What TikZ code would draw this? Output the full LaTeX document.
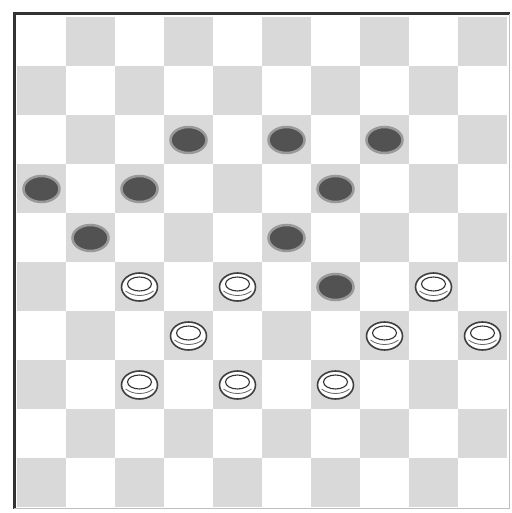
\documentclass[tikz,border=0pt]{standalone}
\begin{document}
\begin{tikzpicture}[x=1pt,y=-1pt,
  darksq/.style={fill=black!15},
  blackman/.style={fill=black!68, draw=black!40, line width=2.5pt},
  whiteman/.style={fill=white, draw=black!75, line width=1.6pt}]
\useasboundingbox (0,0) rectangle (511,513);
\fill[white] (0,0) rectangle (511,513);
% board squares
\foreach \r in {0,...,9}{
  \foreach \c in {0,...,9}{
    \pgfmathtruncatemacro{\sqpar}{mod(\r+\c,2)}
    \ifnum\sqpar=1
      \fill[darksq] ({17+49*\c},{17+49*\r}) rectangle ++(49,49);
    \fi
  }
}
% frame
\draw[black!80, line width=3pt] (14,509) -- (14,14) -- (510,14);
\draw[black!25, line width=1pt] (14,508) -- (509,508) -- (509,14);
% black pieces
\foreach \c/\r in {3/2,5/2,7/2,0/3,2/3,6/3,1/4,5/4,6/5}{
  \filldraw[blackman] ({17+49*\c+24.5},{17+49*\r+25}) ellipse (18 and 13);
}
% white pieces
\foreach \c/\r in {2/5,4/5,8/5,3/6,7/6,9/6,2/7,4/7,6/7}{
  \begin{scope}[shift={({17+49*\c+24.5},{17+49*\r+25})}]
    \filldraw[whiteman] (0,0) ellipse (18 and 14);
    \draw[black!80, line width=1.1pt] (0,-3) ellipse (12 and 7);
    \draw[black!60, line width=0.8pt] (-14,4) .. controls (-6,10) and (6,10) .. (14,4);
  \end{scope}
}
\end{tikzpicture}
\end{document}
